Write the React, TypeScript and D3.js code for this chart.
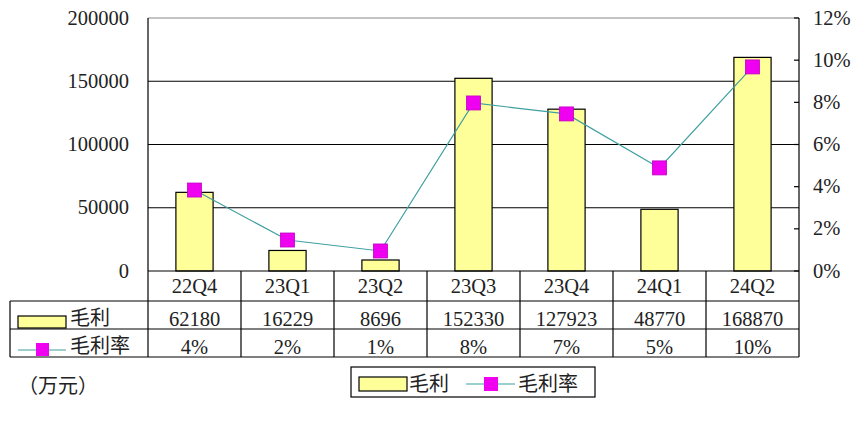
import React from "react";
import * as d3 from "d3";

const categories = ["22Q4", "23Q1", "23Q2", "23Q3", "23Q4", "24Q1", "24Q2"];
const grossProfit = [62180, 16229, 8696, 152330, 127923, 48770, 168870];
const marginValues = [0.0384, 0.0147, 0.0095, 0.0797, 0.0745, 0.0489, 0.0968];
const marginLabels = ["4%", "2%", "1%", "8%", "7%", "5%", "10%"];
const leftTicks = [0, 50000, 100000, 150000, 200000];
const rightTicks = [0, 0.02, 0.04, 0.06, 0.08, 0.1, 0.12];
const seriesNames = ["毛利", "毛利率"];
const unitLabel = "（万元）";

const W = 861;
const H = 421;
const L = 148;
const R = 799;
const T = 18;
const B = 271;
const ROW1 = 301;
const ROW2 = 329;
const ROW3 = 357;
const TL = 10;

const FONT = "'Liberation Serif', 'Noto Sans CJK SC', serif";
const BAR_FILL = "#ffff99";
const LINE_COLOR = "#3f9f9f";
const MARK_FILL = "#f000f0";

export default function App() {
  const x = d3.scaleBand<string>().domain(categories).range([L, R]).paddingInner(0).paddingOuter(0);
  const yL = d3.scaleLinear().domain([0, 200000]).range([B, T]);
  const yR = d3.scaleLinear().domain([0, 0.12]).range([B, T]);
  const bw = x.bandwidth() * 0.4;
  const cx = (c: string) => (x(c) as number) + x.bandwidth() / 2;
  const line = d3
    .line<number>()
    .x((_, i) => cx(categories[i]))
    .y((d) => yR(d));
  const ms = 14;

  return (
    <svg
      width={W}
      height={H}
      style={{ position: "absolute", left: 0, top: 0, background: "#fff" }}
      fontFamily={FONT}
    >
      <rect x={0} y={0} width={W} height={H} fill="#fff" />
      {/* gridlines */}
      {leftTicks.map((t) =>
        t === 0 ? null : (
          <line
            key={"g" + t}
            x1={L}
            x2={R}
            y1={yL(t)}
            y2={yL(t)}
            stroke={t === 200000 ? "#888" : "#000"}
            strokeWidth={1.2}
          />
        )
      )}
      {/* left axis labels */}
      {leftTicks.map((t) => (
        <text key={"l" + t} x={129} y={yL(t) + 6.5} textAnchor="end" fontSize={20.5} fill="#222">
          {t}
        </text>
      ))}
      {/* right axis ticks + labels */}
      {rightTicks.map((t) => (
        <g key={"r" + t}>
          <line x1={R - 5} x2={R} y1={yR(t)} y2={yR(t)} stroke="#000" strokeWidth={1.2} />
          <text x={813} y={yR(t) + 6.5} fontSize={20.5} fill="#222">
            {Math.round(t * 100) + "%"}
          </text>
        </g>
      ))}
      {/* bars */}
      {grossProfit.map((v, i) => (
        <rect
          key={"b" + i}
          x={cx(categories[i]) - bw / 2}
          y={yL(v)}
          width={bw}
          height={B - yL(v)}
          fill={BAR_FILL}
          stroke="#000"
          strokeWidth={1.2}
        />
      ))}
      {/* line */}
      <path d={line(marginValues) || ""} fill="none" stroke={LINE_COLOR} strokeWidth={1.2} />
      {marginValues.map((v, i) => (
        <rect
          key={"m" + i}
          x={cx(categories[i]) - ms / 2}
          y={yR(v) - ms / 2}
          width={ms}
          height={ms}
          fill={MARK_FILL}
          stroke="#c000c0"
          strokeWidth={0.8}
        />
      ))}
      {/* axes */}
      <line x1={L} x2={L} y1={T} y2={ROW3} stroke="#000" strokeWidth={1.2} />
      <line x1={R} x2={R} y1={T} y2={ROW3} stroke="#000" strokeWidth={1.2} />
      <line x1={L} x2={R} y1={B} y2={B} stroke="#000" strokeWidth={1.2} />
      {/* table */}
      {categories.map((c, i) =>
        i === 0 ? null : (
          <line key={"v" + c} x1={x(c) as number} x2={x(c) as number} y1={B} y2={ROW3} stroke="#000" strokeWidth={1.2} />
        )
      )}
      {[ROW1, ROW2, ROW3].map((yy) => (
        <line key={"h" + yy} x1={TL} x2={R} y1={yy} y2={yy} stroke="#000" strokeWidth={1.2} />
      ))}
      <line x1={TL} x2={TL} y1={ROW1} y2={ROW3} stroke="#000" strokeWidth={1.2} />
      {categories.map((c) => (
        <text key={"c" + c} x={cx(c)} y={293} textAnchor="middle" fontSize={20.5} fill="#222">
          {c}
        </text>
      ))}
      {grossProfit.map((v, i) => (
        <text key={"tv" + i} x={cx(categories[i])} y={326} textAnchor="middle" fontSize={20.5} fill="#222">
          {v}
        </text>
      ))}
      {marginLabels.map((v, i) => (
        <text key={"tm" + i} x={cx(categories[i])} y={354} textAnchor="middle" fontSize={20.5} fill="#222">
          {v}
        </text>
      ))}
      {/* table row headers */}
      <rect x={18} y={316} width={48} height={12} fill={BAR_FILL} stroke="#000" strokeWidth={1.2} />
      <text x={70} y={325} fontSize={20} fill="#222">{seriesNames[0]}</text>
      <line x1={18} x2={66} y1={350} y2={350} stroke={LINE_COLOR} strokeWidth={1.2} />
      <rect x={36} y={343} width={13} height={13} fill={MARK_FILL} />
      <text x={70} y={353} fontSize={20} fill="#222">{seriesNames[1]}</text>
      {/* unit */}
      <text x={18} y={393} fontSize={20} fill="#222">{unitLabel}</text>
      {/* legend */}
      <rect x={351} y={367} width={244} height={30} fill="#fff" stroke="#000" strokeWidth={1.2} />
      <rect x={359} y={377} width={48} height={14} fill={BAR_FILL} stroke="#000" strokeWidth={1.2} />
      <text x={409} y={391} fontSize={20} fill="#222">{seriesNames[0]}</text>
      <line x1={466} x2={515} y1={384} y2={384} stroke={LINE_COLOR} strokeWidth={1.2} />
      <rect x={484} y={377} width={14} height={14} fill={MARK_FILL} />
      <text x={518} y={391} fontSize={20} fill="#222">{seriesNames[1]}</text>
    </svg>
  );
}
